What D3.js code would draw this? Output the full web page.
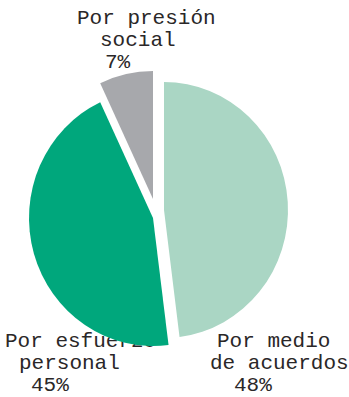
<!DOCTYPE html>
<html>
<head>
<meta charset="utf-8">
<script src="https://cdn.jsdelivr.net/npm/d3@7/dist/d3.min.js"></script>
<style>
  html, body { margin: 0; padding: 0; background: #ffffff; }
  svg { display: block; }
  text { font-family: "Liberation Mono", "Courier New", monospace; fill: #2a2728; }
</style>
</head>
<body>
<script>
// Shares of responses, in drawing order (clockwise from 12 o'clock)
const categories = ["Por medio de acuerdos", "Por esfuerzo personal", "Por presión social"];
const values = [48, 45, 7];
const labelLines = [["Por medio", "de acuerdos"], ["Por esfuerzo", "personal"], ["Por presión", "social"]];
const colors = ["#aad6c4", "#00a77c", "#a7a8ac"];

// Layout
const W = 349, H = 397;
const center = { x: 155, y: 210 };
const rx = 124, ry = 128;
// Each slice is pulled away from the centre by its own offset
const explode = [{ dx: 9, dy: 0 }, { dx: -2, dy: 8 }, { dx: -2, dy: -11 }];
// Label line anchors (left edge, baseline) for each slice
const labelPos = [
  [{ x: 217, y: 347 }, { x: 210, y: 369 }, { x: 234, y: 391 }],
  [{ x: 5, y: 347 }, { x: 19, y: 369 }, { x: 31, y: 391 }],
  [{ x: 77, y: 24 }, { x: 100, y: 46 }, { x: 105, y: 68 }]
];
const fontSize = 21;

const svg = d3.select("body").append("svg").attr("width", W).attr("height", H);

const pie = d3.pie().sort(null).value(d => d).startAngle(0).endAngle(2 * Math.PI);
const arcs = pie(values);
const arc = d3.arc().innerRadius(0).outerRadius(rx);

// Labels sit underneath the pie
const labels = svg.append("g").attr("class", "labels");
arcs.forEach((a, i) => {
  const lines = labelLines[i].concat([values[i] + "%"]);
  lines.forEach((t, j) => {
    labels.append("text")
      .attr("x", labelPos[i][j].x)
      .attr("y", labelPos[i][j].y)
      .attr("font-size", fontSize)
      .text(t);
  });
});

const slices = svg.append("g").attr("class", "slices");
arcs.forEach((a, i) => {
  slices.append("g")
    .attr("transform", `translate(${center.x + explode[i].dx},${center.y + explode[i].dy}) scale(1,${ry / rx})`)
    .append("path")
    .attr("d", arc(a))
    .attr("fill", colors[i]);
});
</script>
</body>
</html>
